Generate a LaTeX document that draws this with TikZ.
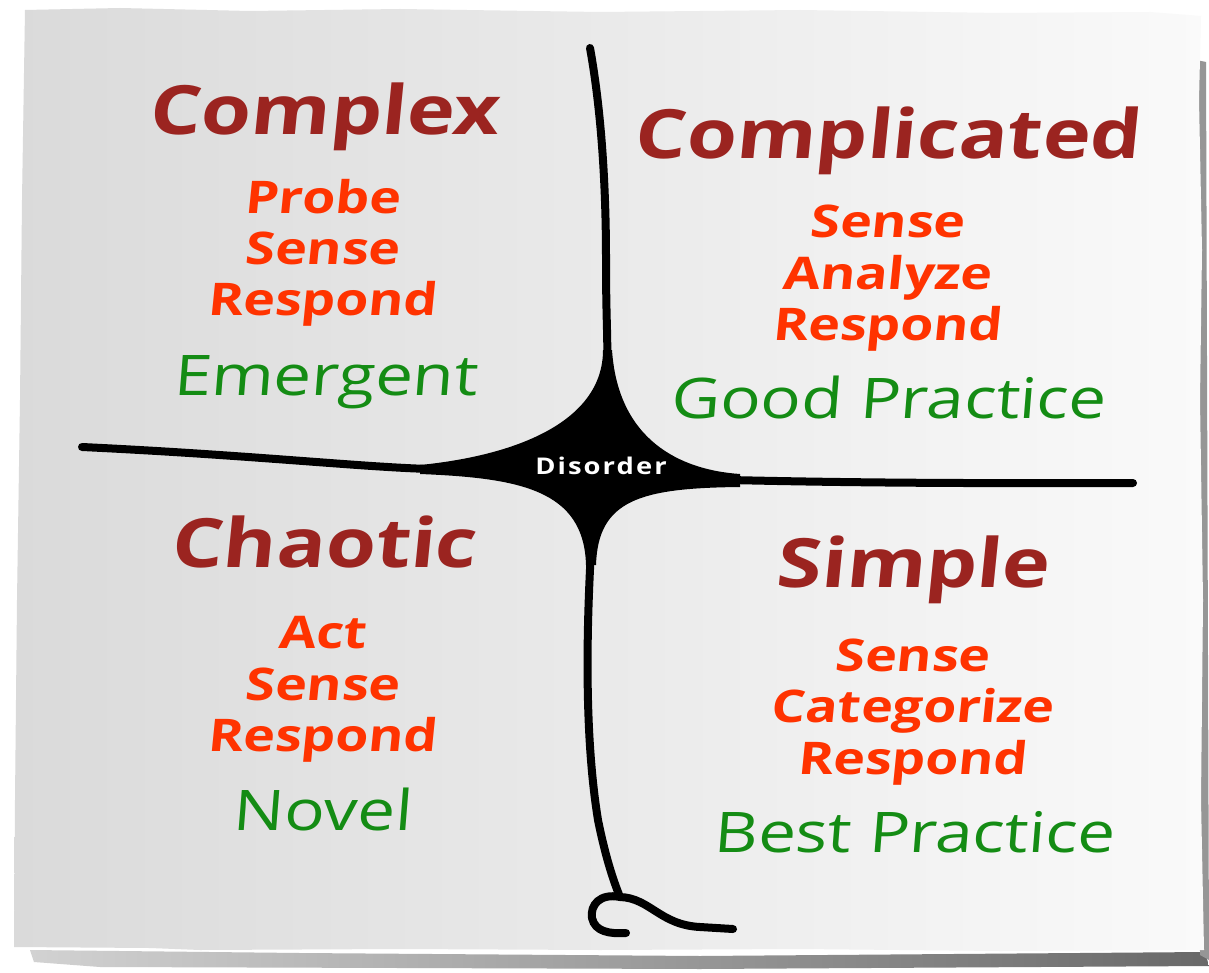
\documentclass[tikz,border=0pt]{standalone}
\usepackage{fontspec}
\setmainfont{Open Sans}
\newfontfamily\titlefont{Open Sans}[FakeSlant=0.1, FakeStretch=1.19]
\newfontfamily\pracfont{Open Sans}[FakeSlant=0.08, FakeStretch=1.2]
\newfontfamily\disfont{Open Sans}[FakeStretch=1.19, LetterSpace=9]
\definecolor{titlered}{RGB}{155,36,32}
\definecolor{verbred}{RGB}{255,51,0}
\definecolor{goodgreen}{RGB}{20,140,20}
\definecolor{papertl}{RGB}{218,218,218}
\definecolor{paperbr}{RGB}{250,250,250}
\definecolor{shadowc}{RGB}{105,105,105}
\begin{document}
\begin{tikzpicture}[x=1pt,y=-1pt,
  title/.style={font=\titlefont\bfseries\fontsize{68}{70}\selectfont, text=titlered, anchor=base, inner sep=0pt},
  verb/.style={font=\titlefont\bfseries\fontsize{45}{51}\selectfont, text=verbred, anchor=base, inner sep=0pt},
  prac/.style={font=\pracfont\fontsize{56}{60}\selectfont, text=goodgreen, anchor=base, inner sep=0pt},
  wire/.style={line width=8pt, line cap=round, draw=black},
]
\useasboundingbox (0,0) rectangle (1209,973);
\fill[white] (0,0) rectangle (1209,973);
% shadows
\shade[left color=shadowc!30, right color=shadowc] (30,950) -- (300,953) -- (700,956) -- (1205,952) -- (1209,966) -- (700,969) -- (100,967) -- (34,962) -- cycle;
\fill[shadowc!70] (1196,60) -- (1206,62) -- (1209,960) -- (1200,955) -- cycle;
% paper
\shade[left color=papertl, right color=paperbr]
 (25,10) -- (120,8) -- (250,11) -- (400,9) -- (600,12) -- (800,10) -- (1000,13) -- (1150,12) -- (1201,16)
 -- (1199,100) -- (1202,250) -- (1200,400) -- (1203,600) -- (1201,800) -- (1204,950)
 -- (1000,951) -- (800,949) -- (600,950) -- (400,949) -- (200,950) -- (150,948) -- (14,947)
 -- (15,800) -- (17,600) -- (20,400) -- (22,200) -- cycle;
% centre blob
\fill[black] (603,350) .. controls (603,420) and (520,455) .. (420,465)
 -- (420,474) .. controls (520,478) and (584,490) .. (586,565)
 -- (596,565) .. controls (598,500) and (640,488) .. (740,487)
 -- (740,474) .. controls (680,470) and (618,440) .. (612,350) -- cycle;
\coordinate (topend) at (590,48);
\coordinate (topjoin) at (607,360);
\coordinate (botjoin) at (591,550);
\coordinate (foot) at (620,897);
\coordinate (curlend) at (626,933);
\coordinate (tailend) at (733,929);
\coordinate (leftend) at (82,447);
\coordinate (leftjoin) at (430,469);
\coordinate (rightjoin) at (730,480);
\coordinate (rightend) at (1133,483);
\draw[wire] (topend) .. controls (603,120) and (606,200) .. (606,260) .. controls (606,320) and (608,340) .. (topjoin);
\draw[wire] (botjoin) .. controls (586,640) and (585,740) .. (598,820) .. controls (606,860) and (615,885) .. (foot);
\draw[wire] (foot) .. controls (600,893) and (590,905) .. (592,918) .. controls (595,932) and (610,934) .. (curlend);
\draw[wire] (foot) .. controls (650,898) and (660,925) .. (700,927) -- (tailend);
\draw[wire] (leftend) .. controls (250,455) and (360,467) .. (leftjoin);
\draw[wire] (rightjoin) .. controls (900,484) and (1050,483) .. (rightend);
\node[font=\disfont\bfseries\fontsize{23}{23}\selectfont, text=white, anchor=base, inner sep=0pt] (disorder) at (601,474) {Disorder};
% Complex
\node[title] (complex) at (323,135) {Complex};
\node[verb] (cx1) at (322,214) {Probe};
\node[verb] (cx2) at (322,265) {Sense};
\node[verb] (cx3) at (322,316) {Respond};
\node[prac] (cx4) at (325,395) {Emergent};
% Complicated
\node[title] (complicated) at (887,159) {Complicated};
\node[verb] (cd1) at (887,238) {Sense};
\node[verb] (cd2) at (887,290) {Analyze};
\node[verb] (cd3) at (887,341) {Respond};
\node[prac] (cd4) at (888,418) {Good Practice};
% Chaotic
\node[title] (chaotic) at (323,567) {Chaotic};
\node[verb] (ch1) at (322,648) {Act};
\node[verb] (ch2) at (322,700) {Sense};
\node[verb] (ch3) at (322,751) {Respond};
\node[prac] (ch4) at (322,830) {Novel};
% Simple
\node[title] (simple) at (912,587) {Simple};
\node[verb] (s1) at (912,671) {Sense};
\node[verb] (s2) at (912,722) {Categorize};
\node[verb] (s3) at (912,774) {Respond};
\node[prac] (s4) at (914,852) {Best Practice};
\end{tikzpicture}
\end{document}
